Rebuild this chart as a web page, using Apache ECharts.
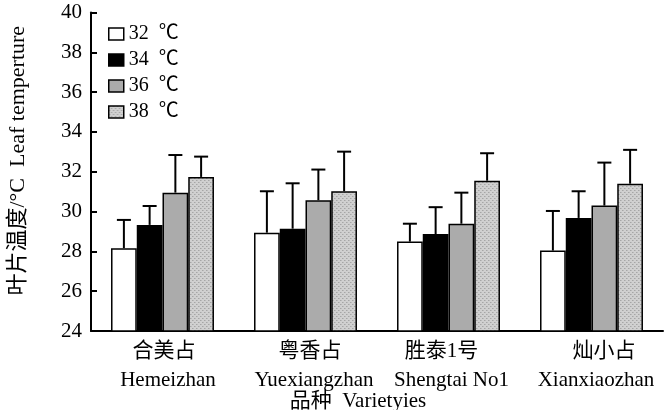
<!DOCTYPE html>
<html>
<head>
<meta charset="utf-8">
<script src="https://cdn.jsdelivr.net/npm/echarts@6/dist/echarts.min.js"></script>
<style>
  html, body { margin: 0; padding: 0; background: #fff; }
  #chart { width: 667px; height: 410px; }
</style>
</head>
<body>
<div id="chart"></div>
<script>
// Rice varieties (Chinese name / English name)
const varietiesCn = ['合美占', '粤香占', '胜泰1号', '灿小占'];
const varietiesEn = ['Hemeizhan', 'Yuexiangzhan', 'Shengtai No1', 'Xianxiaozhan'];

// Temperature treatments
const treatments = ['32  ℃', '34  ℃', '36  ℃', '38  ℃'];

// Mean leaf temperature (°C) and standard deviation per treatment
const mean32 = [28.16, 28.94, 28.49, 28.04];
const sd32   = [1.42, 2.08, 0.90, 1.99];
const mean34 = [29.33, 29.14, 28.87, 29.68];
const sd34   = [0.95, 2.28, 1.35, 1.34];
const mean36 = [30.95, 30.57, 29.39, 30.30];
const sd36   = [1.89, 1.54, 1.56, 2.16];
const mean38 = [31.74, 31.02, 31.55, 31.40];
const sd38   = [1.02, 1.99, 1.38, 1.70];

// Y axis range
const yMin = 24, yMax = 40, yStep = 2;

const yAxisName = '叶片温度/°C  Leaf temperture';
const xAxisName = '品种  Varietyies';

// ---- styling ----
const FONT = '"Liberation Serif", "Times New Roman", "Noto Sans CJK SC", serif';
const CAT_GAP = 0.28;          // share of a category left empty around the bars
const CN_SHIFT = [1.5, 4.5, -7, 12.5];
const EN_SHIFT = [5.5, 8.5, 3, 4.5];

function dotted() {
  const c = document.createElement('canvas');
  c.width = 4; c.height = 4;
  const g = c.getContext('2d');
  g.fillStyle = '#d0d0d0';
  g.fillRect(0, 0, 4, 4);
  g.fillStyle = '#a6a6a6';
  g.fillRect(0, 0, 1, 1);
  g.fillRect(2, 2, 1, 1);
  g.fillStyle = '#bababa';
  g.fillRect(1, 0, 1, 1);
  g.fillRect(3, 2, 1, 1);
  return { image: c, repeat: 'repeat' };
}

const fills = ['#ffffff', '#000000', '#ababab', dotted()];
const means = [mean32, mean34, mean36, mean38];
const sds = [sd32, sd34, sd36, sd38];

function shiftPad(d) {
  return d >= 0 ? [0, 0, 0, 2 * d] : [0, -2 * d, 0, 0];
}
const rich = {};
for (let i = 0; i < varietiesCn.length; i++) {
  rich['c' + i] = { fontFamily: FONT, fontSize: 21, color: '#000', lineHeight: 29, padding: shiftPad(CN_SHIFT[i]) };
  rich['e' + i] = { fontFamily: FONT, fontSize: 21, color: '#000', lineHeight: 29, padding: shiftPad(EN_SHIFT[i]) };
}

const barSeries = treatments.map((name, k) => ({
  type: 'bar',
  name: name,
  data: means[k],
  barGap: 0,
  barCategoryGap: (CAT_GAP * 100) + '%',
  itemStyle: { color: fills[k], borderColor: '#000', borderWidth: 1.5 },
  z: 2
}));

const errSeries = treatments.map((name, k) => ({
  type: 'custom',
  name: name + ' sd',
  data: means[k].map((m, i) => [i, m, sds[k][i]]),
  z: 3,
  renderItem: function (params, api) {
    const cat = api.value(0), m = api.value(1), s = api.value(2);
    const base = api.coord([cat, m]);
    const top = api.coord([cat, m + s]);
    const band = api.size([1, 0])[0];
    const bw = band * (1 - CAT_GAP) / treatments.length;
    const x = base[0] + (k - (treatments.length - 1) / 2) * bw;
    const lw = 2;
    return {
      type: 'group',
      children: [
        { type: 'line', shape: { x1: x, y1: base[1], x2: x, y2: top[1] }, style: { stroke: '#000', lineWidth: lw } },
        { type: 'line', shape: { x1: x - 7, y1: top[1], x2: x + 7, y2: top[1] }, style: { stroke: '#000', lineWidth: lw } }
      ]
    };
  }
}));

const chart = echarts.init(document.getElementById('chart'), null, { renderer: 'canvas' });
chart.setOption({
  animation: false,
  backgroundColor: '#fff',
  grid: { left: 91, right: 4, top: 12.5, bottom: 79, containLabel: false, outerBoundsMode: 'none' },
  legend: {
    data: treatments,
    orient: 'vertical',
    left: 108,
    top: 24,
    padding: 0,
    itemWidth: 15,
    itemHeight: 12,
    itemGap: 6,
    icon: 'rect',
    itemStyle: { borderColor: '#000', borderWidth: 1.5 },
    textStyle: { fontFamily: FONT, fontSize: 20, lineHeight: 20, color: '#000' }
  },
  xAxis: {
    type: 'category',
    data: varietiesCn,
    boundaryGap: true,
    axisLine: { lineStyle: { color: '#000', width: 2 } },
    axisTick: { inside: true, length: 6, lineStyle: { color: '#000', width: 2 } },
    axisLabel: {
      margin: 6,
      interval: 0,
      formatter: function (v, i) { return '{c' + i + '|' + varietiesCn[i] + '}\n{e' + i + '|' + varietiesEn[i] + '}'; },
      rich: rich
    },
    name: xAxisName,
    nameLocation: 'middle',
    nameGap: 60,
    nameMoveOverlap: false,
    nameTextStyle: { fontFamily: FONT, fontSize: 21, color: '#000', padding: [0, 38, 0, 0] },
    splitLine: { show: false }
  },
  yAxis: {
    type: 'value',
    min: yMin,
    max: yMax,
    interval: yStep,
    axisLine: { show: true, lineStyle: { color: '#000', width: 2 } },
    axisTick: { show: true, inside: true, length: 6, lineStyle: { color: '#000', width: 2 } },
    axisLabel: { margin: 9, fontFamily: FONT, fontSize: 21, color: '#000' },
    splitLine: { show: false },
    name: yAxisName,
    nameLocation: 'middle',
    nameGap: 62,
    nameMoveOverlap: false,
    nameTextStyle: { fontFamily: FONT, fontSize: 22, color: '#000', padding: [0, 0, 0, 22] }
  },
  series: barSeries.concat(errSeries)
});
</script>
</body>
</html>
